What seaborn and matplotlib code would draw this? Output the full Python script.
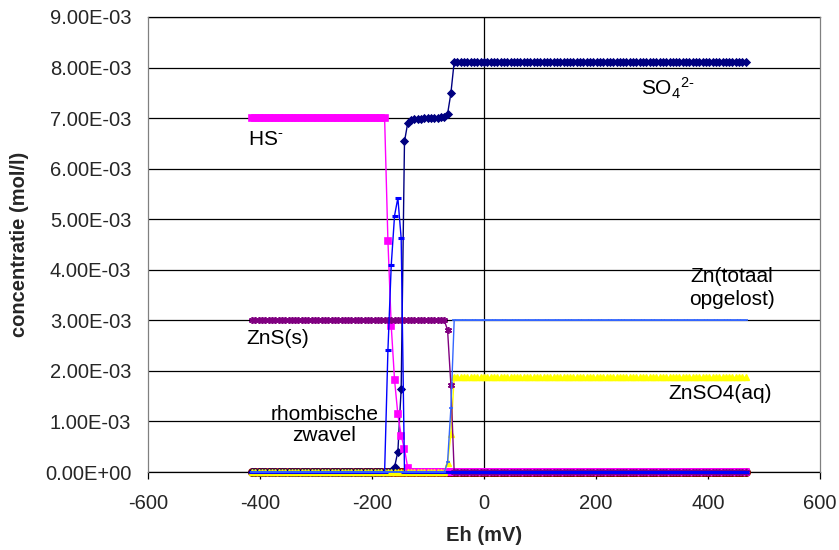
import numpy as np
import pandas as pd
import matplotlib
matplotlib.use("Agg")
import matplotlib.pyplot as plt
from matplotlib.ticker import FuncFormatter, MultipleLocator
import seaborn as sns

# Eh-as: stappen van 0.1 pe (Eh = 59.16 * pe)
pe = np.round(np.arange(-70, 80) / 10, 1)
eh = 59.16 * pe

# concentraties in mmol/l
so4 = ([0.0] * 42 + [0.02, 0.10, 0.40, 1.65, 6.54, 6.91, 6.96]
       + [6.98, 6.99, 6.99, 7.00, 7.00, 7.00, 7.00, 7.01, 7.02, 7.03]
       + [7.08, 7.49] + [8.11] * 89)
hs = [7.0] * 41 + [4.57, 2.89, 1.82, 1.14, 0.72, 0.45, 0.08] + [0.0] * 102
zwavel = [0.0] * 41 + [2.41, 4.09, 5.07, 5.42, 4.62] + [0.0] * 104
zns = [3.0] * 59 + [2.81, 1.73] + [0.0] * 89
znso4 = [0.0] * 59 + [0.17, 0.75] + [1.87] * 89
zn_tot = [0.0] * 59 + [0.19, 1.26] + [3.0] * 89
overig = [0.0] * 150

df = pd.DataFrame({"Eh": eh, "so4": so4, "hs": hs, "zwavel": zwavel, "zns": zns,
                   "znso4": znso4, "zn_tot": zn_tot, "overig": overig})

# (kolom, kleur, marker, markergrootte, markerrand)
reeksen = [
    ("overig", "#800000", "o", 5.5, 1.0),
    ("so4", "#000080", "D", 3.5, 1.2),
    ("hs", "#FF00FF", "s", 4.0, 1.2),
    ("znso4", "#FFFF00", "^", 4.0, 1.0),
    ("zns", "#800080", (6, 2, 0), 5.0, 1.2),
    ("zwavel", "#0000FF", "_", 4.0, 2.2),
    ("zn_tot", "#3366FF", "_", 3.0, 1.2),
]

sns.set_style("white")
plt.rcParams["font.family"] = ["Liberation Sans", "DejaVu Sans"]
plt.rcParams["mathtext.default"] = "regular"
plt.rcParams["axes.unicode_minus"] = False

fig = plt.figure(figsize=(8.39, 5.5), dpi=100)
ax = fig.add_axes([148 / 839, 78 / 550, 672 / 839, 455 / 550])

for kol, kleur, mk, ms, mew in reeksen:
    sns.lineplot(x=df["Eh"], y=df[kol] * 1e-3, ax=ax, color=kleur, marker=mk,
                 markersize=ms, markeredgecolor=kleur, markerfacecolor=kleur,
                 markeredgewidth=mew, linewidth=1.0, estimator=None, sort=False,
                 clip_on=False, zorder=3)

ax.set_xlim(-600, 600)
ax.set_ylim(0, 0.009)
ax.xaxis.set_major_locator(MultipleLocator(200))
ax.yaxis.set_major_locator(MultipleLocator(0.001))
ax.yaxis.set_major_formatter(FuncFormatter(lambda v, p: f"{v:.2E}"))

ax.set_axisbelow(True)
ax.yaxis.grid(True, color="black", linewidth=0.9)
ax.xaxis.grid(False)
ax.axvline(0, color="black", linewidth=0.9, zorder=1)

for kant in ["left", "right"]:
    ax.spines[kant].set_color("#808080")
    ax.spines[kant].set_linewidth(0.9)
for kant in ["top", "bottom"]:
    ax.spines[kant].set_color("black")
    ax.spines[kant].set_linewidth(0.9)
    ax.spines[kant].set_zorder(1)

ax.tick_params(axis="x", direction="out", length=5, width=0.9, color="black",
               labelsize=14.5, pad=11, bottom=True)
ax.tick_params(axis="y", length=0, labelsize=14.5, pad=12)

ax.set_xlabel("Eh (mV)", fontsize=14.5, fontweight="bold")
ax.set_ylabel("concentratie (mol/l)", fontsize=14.5, fontweight="bold")
ax.xaxis.set_label_coords(0.5, -0.118)
ax.yaxis.set_label_coords(-0.177, 0.5)

tekst = dict(fontsize=15, color="black")
ax.text(281, 7.59e-3, "SO$_4$$^{2\u2010}$", ha="left", va="center", **tekst)
ax.text(-422, 6.57e-3, "HS$^{\u2010}$", ha="left", va="center", **tekst)
ax.text(443, 3.64e-3, "Zn(totaal\nopgelost)", ha="center", va="center",
        linespacing=1.3, **tekst)
ax.text(-424, 2.65e-3, "ZnS(s)", ha="left", va="center", **tekst)
ax.text(329, 1.56e-3, "ZnSO4(aq)", ha="left", va="center", **tekst)
ax.text(-285, 0.93e-3, "rhombische\nzwavel", ha="center", va="center",
        linespacing=1.15, **tekst)

leg = ax.get_legend()
if leg is not None:
    leg.remove()

fig.savefig("out.png", dpi=100)
